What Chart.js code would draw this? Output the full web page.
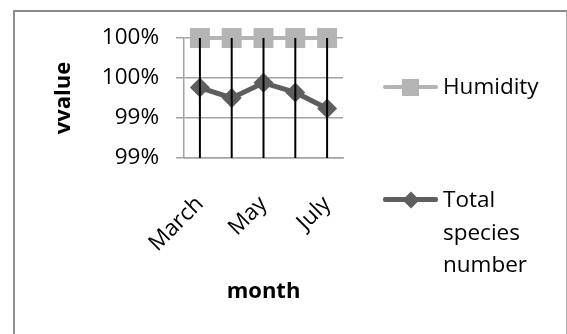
<!DOCTYPE html>
<html>
<head>
<meta charset="utf-8">
<script src="https://cdn.jsdelivr.net/npm/chart.js@4/dist/chart.umd.min.js"></script>
<style>
  html, body { margin: 0; padding: 0; background: #fff; }
  #wrap { position: relative; width: 567px; height: 334px; overflow: hidden; background: #fff; }
  #frame { position: absolute; left: 13px; top: 10px; width: 551px; height: 340px;
           border-left: 2px solid #909090; border-top: 2px solid #8a8a8a; border-right: 1.5px solid #a8a8a8; }
  canvas { position: absolute; left: 0; top: 0; }
  .lg { position: absolute; font-family: "Open Sans", sans-serif; font-size: 22.5px; color: #000; line-height: 32.5px; white-space: nowrap; }
  .swline { position: absolute; height: 4px; border-radius: 2px; }
  .swbox { position: absolute; }
</style>
</head>
<body>
<div id="wrap">
  <div id="frame"></div>
  <canvas id="chart" width="567" height="334"></canvas>

  <!-- legend -->
  <div class="swline" style="left:383px;top:85px;width:55px;background:#b4b4b4;"></div>
  <div class="swbox" style="left:401.5px;top:78.5px;width:17px;height:17px;background:#b4b4b4;"></div>
  <div class="lg" style="left:443px;top:70px;">Humidity</div>

  <div class="swline" style="left:383px;top:197px;width:55px;height:5px;background:#5e5e5e;"></div>
  <div class="swbox" style="left:404.5px;top:193.5px;width:12px;height:12px;background:#5e5e5e;transform:rotate(45deg);"></div>
  <div class="lg" style="left:443px;top:183px;">Total<br>species<br>number</div>
</div>

<script>
// Months on the category axis
const months = ['March', 'April', 'May', 'June', 'July'];
// Category labels printed under the axis (every other month)
const monthTickLabels = ['March', '', 'May', '', 'July'];

// Series values (fractions)
const humidity = [1.0, 1.0, 1.0, 1.0, 1.0];
const totalSpecies = [0.9938, 0.9925, 0.9944, 0.9932, 0.9912];

// Value axis ticks and their printed labels
const valueTicks = [0.985, 0.99, 0.995, 1.0];
const valueTickLabels = ['99%', '99%', '100%', '100%'];

const FONT = '"Open Sans", sans-serif';
const GRID = '#a3a3a3';

// Vertical drop lines from the highest point of each month down to the category axis
const dropLines = {
  id: 'dropLines',
  afterDatasetsDraw(chart) {
    const { ctx, chartArea, scales } = chart;
    const x = scales.x, y = scales.y;
    ctx.save();
    ctx.strokeStyle = '#000';
    ctx.lineWidth = 2;
    months.forEach((m, i) => {
      const top = Math.max(...chart.data.datasets.map(d => d.data[i]));
      const px = x.getPixelForValue(i);
      ctx.beginPath();
      ctx.moveTo(px, y.getPixelForValue(top));
      ctx.lineTo(px, chartArea.bottom);
      ctx.stroke();
    });
    ctx.restore();
  }
};

new Chart(document.getElementById('chart'), {
  type: 'line',
  data: {
    labels: months,
    datasets: [
      {
        label: 'Humidity',
        data: humidity,
        borderColor: '#b4b4b4',
        backgroundColor: '#b4b4b4',
        borderWidth: 4,
        pointStyle: 'rect',
        pointRadius: 14.1,
        pointBorderWidth: 0,
        clip: false
      },
      {
        label: 'Total species number',
        data: totalSpecies,
        borderColor: '#5e5e5e',
        backgroundColor: '#5e5e5e',
        borderWidth: 5,
        pointStyle: 'rectRot',
        pointRadius: 10,
        pointBorderWidth: 0,
        clip: false
      }
    ]
  },
  options: {
    responsive: false,
    animation: false,
    events: [],
    layout: { padding: { left: 40, top: 38, right: 224, bottom: 20 } },
    plugins: { legend: { display: false }, tooltip: { enabled: false } },
    scales: {
      x: {
        offset: true,
        grid: { display: false, drawTicks: false },
        border: { display: true, color: GRID, width: 1.5 },
        ticks: {
          autoSkip: false,
          minRotation: 45,
          maxRotation: 45,
          padding: 33,
          color: '#000',
          font: { family: FONT, size: 22.5 },
          callback: (v, i) => monthTickLabels[i]
        },
        title: {
          display: true,
          text: 'month',
          color: '#000',
          font: { family: FONT, size: 22, weight: 'bold' },
          padding: { top: 0, bottom: 9 }
        },
        afterFit(s) { s.height = 156; }
      },
      y: {
        min: 0.985,
        max: 1.0,
        afterBuildTicks(s) { s.ticks = valueTicks.map(v => ({ value: v })); },
        grid: { color: GRID, lineWidth: 1.5, tickLength: 8 },
        border: { display: true, color: GRID, width: 1.5 },
        ticks: {
          padding: 17,
          color: '#000',
          font: { family: FONT, size: 22.5 },
          callback: (v, i) => valueTickLabels[i]
        },
        title: {
          display: true,
          text: 'vvalue',
          color: '#000',
          font: { family: FONT, size: 22, weight: 'bold' },
          padding: { top: 11, bottom: 0 }
        },
        afterFit(s) { s.width = 144; }
      }
    }
  },
  plugins: [dropLines]
});
</script>
</body>
</html>
